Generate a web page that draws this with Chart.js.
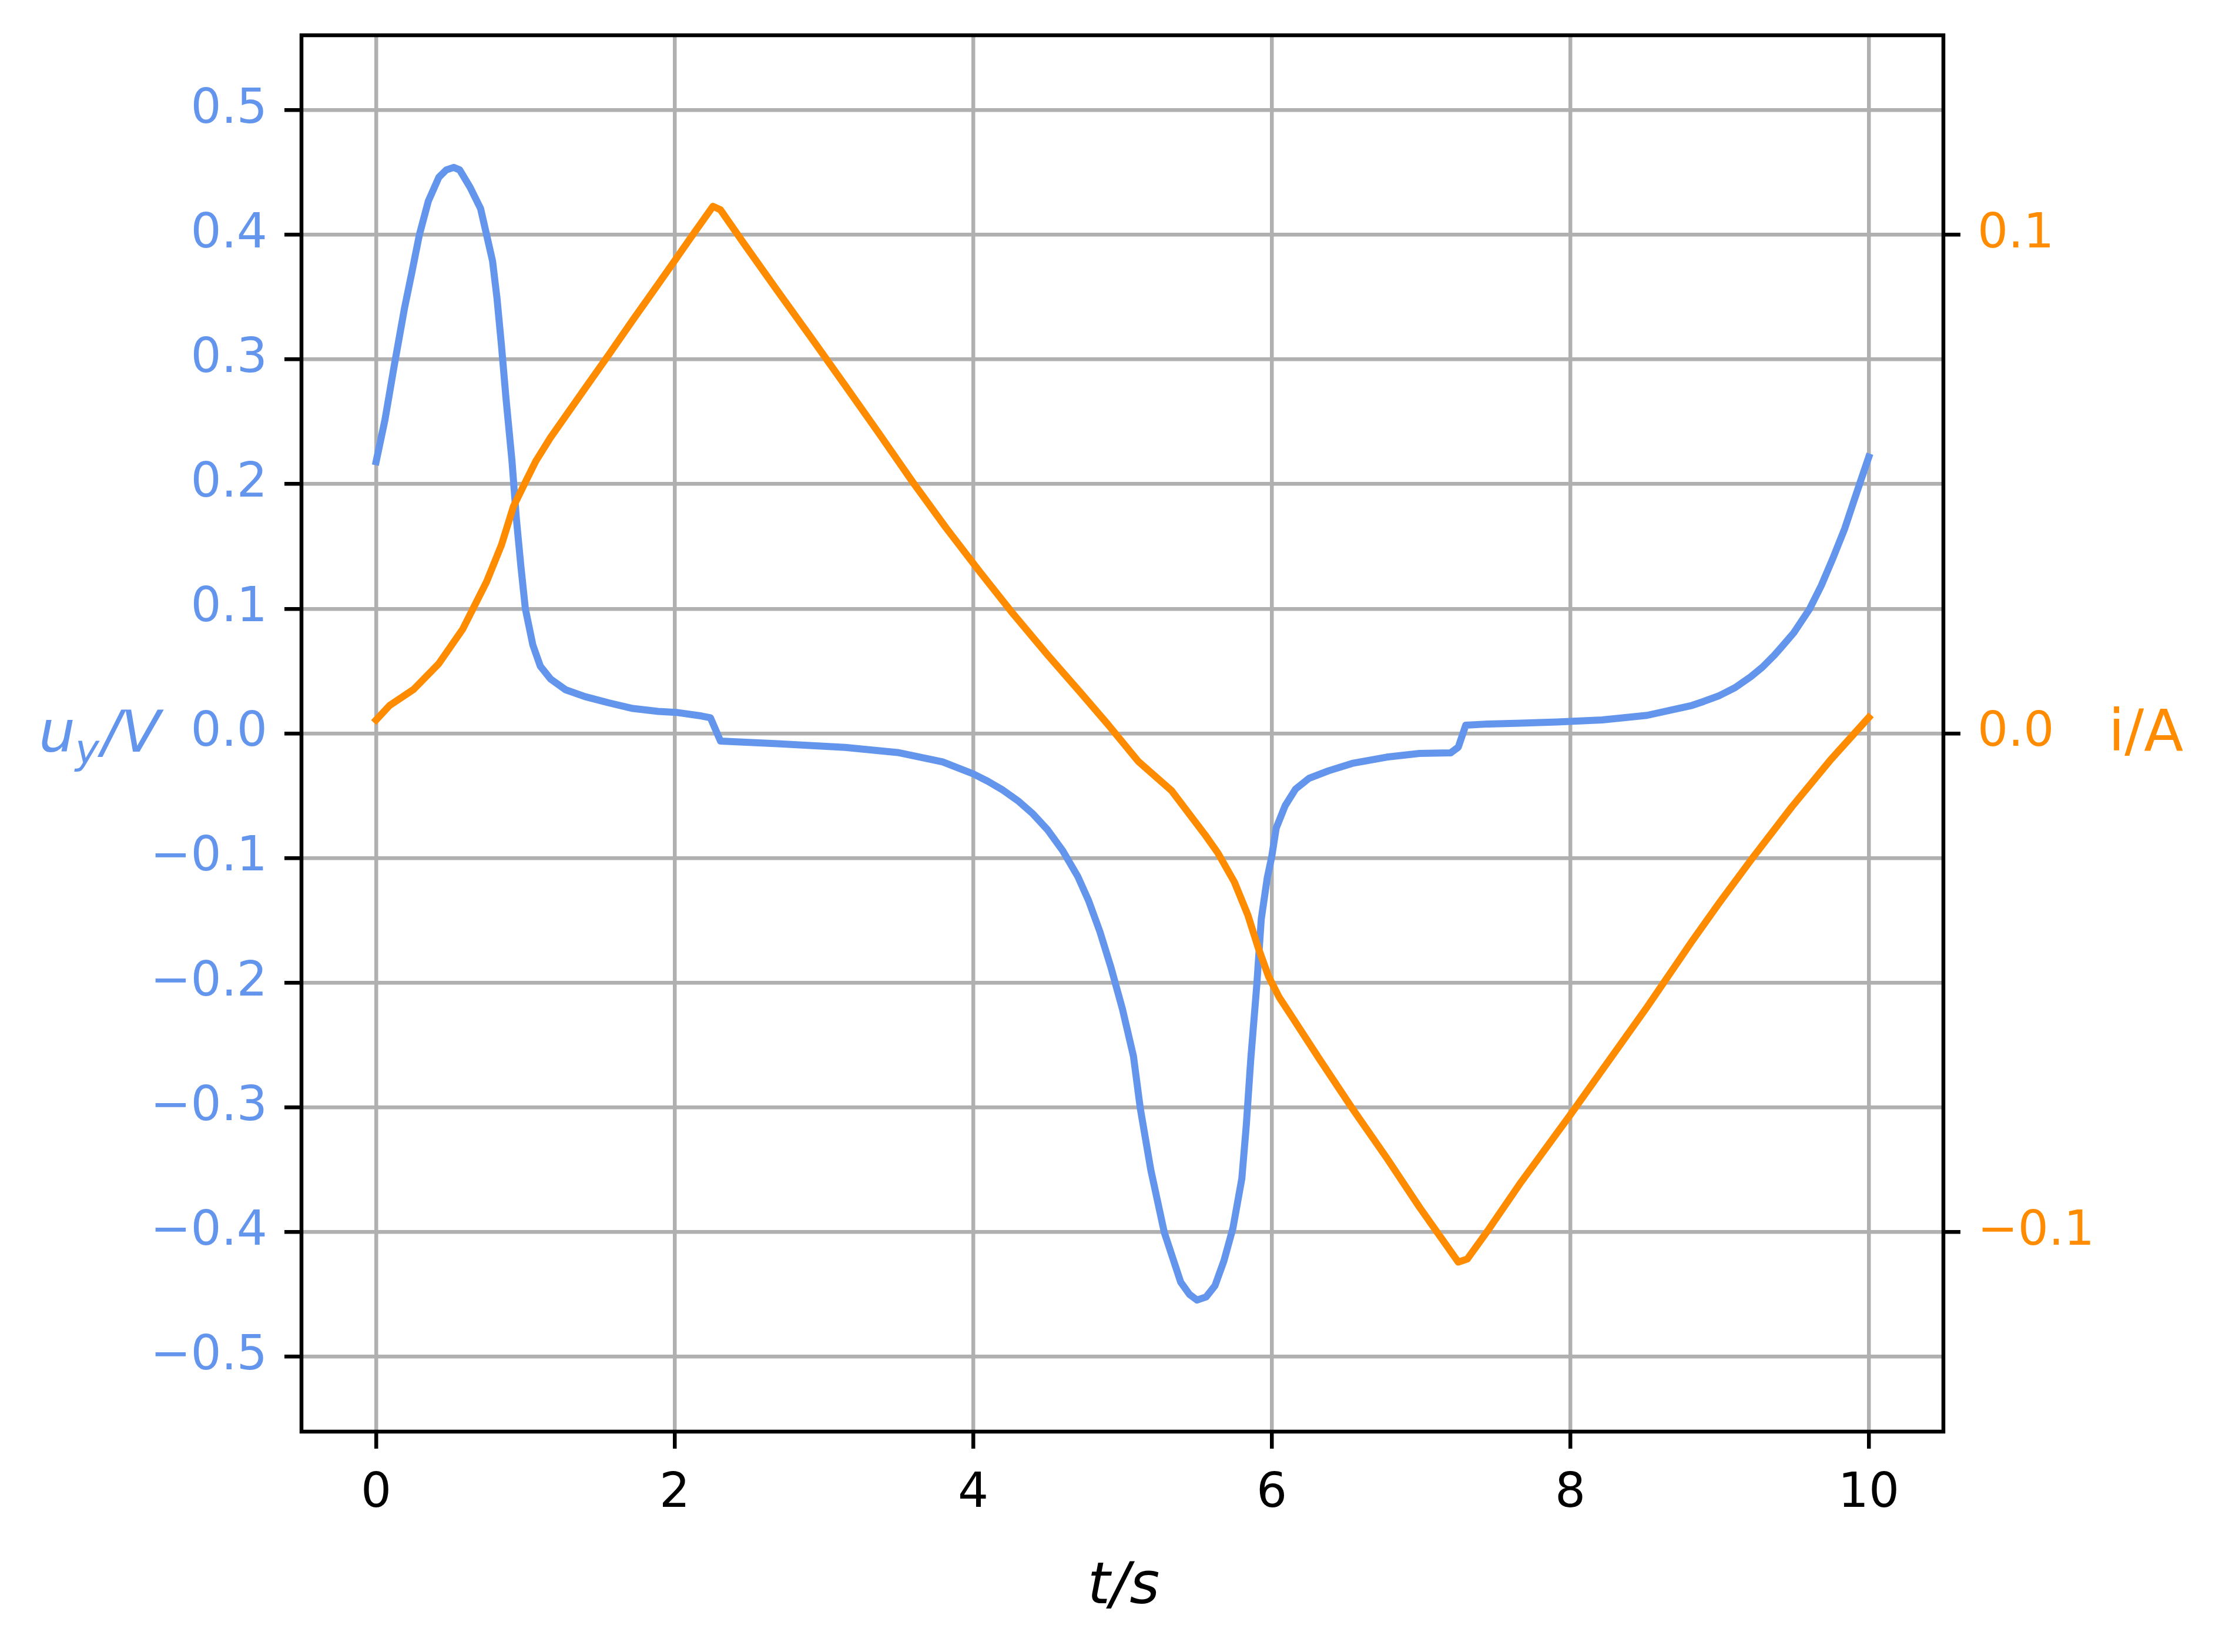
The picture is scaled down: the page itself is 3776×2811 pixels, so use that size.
<!DOCTYPE html>
<html>
<head>
<meta charset="utf-8">
<script src="https://cdn.jsdelivr.net/npm/chart.js@4.4.1/dist/chart.umd.min.js"></script>
<style>
  html, body { margin: 0; padding: 0; background: #fff; }
</style>
</head>
<body>
<canvas id="myChart" width="3776" height="2811"></canvas>
<script>
// tiempo y tension u_y (eje izquierdo)
const tU = [0, 0.06, 0.12, 0.19, 0.24, 0.29, 0.35, 0.42, 0.47, 0.52, 0.56, 0.63, 0.7, 0.74, 0.78, 0.81, 0.84, 0.87, 0.91, 0.94, 0.97, 1.0, 1.05, 1.1, 1.17, 1.27, 1.4, 1.56, 1.72, 1.89, 2.01, 2.18, 2.24, 2.307, 2.69, 3.142, 3.494, 3.795, 4.0, 4.1, 4.2, 4.3, 4.4, 4.5, 4.6, 4.7, 4.773, 4.849, 4.924, 5.0, 5.074, 5.12, 5.19, 5.28, 5.39, 5.45, 5.5, 5.56, 5.62, 5.68, 5.74, 5.8, 5.83, 5.86, 5.9, 5.93, 5.97, 6.0, 6.03, 6.09, 6.16, 6.25, 6.38, 6.54, 6.77, 6.99, 7.2, 7.25, 7.3, 7.45, 7.67, 7.913, 8.214, 8.514, 8.816, 8.895, 9.0, 9.104, 9.209, 9.288, 9.367, 9.419, 9.498, 9.603, 9.682, 9.76, 9.839, 9.891, 9.944, 10.0];
const uVals = [0.218, 0.252, 0.294, 0.341, 0.370, 0.400, 0.427, 0.446, 0.452, 0.454, 0.452, 0.438, 0.421, 0.400, 0.379, 0.349, 0.311, 0.269, 0.219, 0.172, 0.134, 0.100, 0.071, 0.054, 0.0435, 0.035, 0.0295, 0.0245, 0.020, 0.0177, 0.0169, 0.014, 0.0126, -0.0061, -0.0083, -0.0112, -0.0153, -0.0228, -0.0324, -0.0385, -0.0455, -0.054, -0.0645, -0.0775, -0.094, -0.1145, -0.134, -0.159, -0.188, -0.221, -0.259, -0.301, -0.350, -0.400, -0.440, -0.450, -0.4545, -0.452, -0.443, -0.423, -0.397, -0.357, -0.314, -0.261, -0.202, -0.149, -0.116, -0.099, -0.076, -0.058, -0.0446, -0.036, -0.030, -0.024, -0.019, -0.016, -0.0155, -0.011, 0.0066, 0.0076, 0.0083, 0.0092, 0.0108, 0.0145, 0.0225, 0.0257, 0.0304, 0.0367, 0.0454, 0.0532, 0.0627, 0.0698, 0.0808, 0.0997, 0.1186, 0.1406, 0.1643, 0.1831, 0.202, 0.2217];

// tiempo y corriente i (eje derecho)
const tI = [0, 0.09, 0.25, 0.42, 0.58, 0.74, 0.84, 0.92, 1.0, 1.07, 1.17, 1.4, 1.56, 1.72, 1.89, 2.01, 2.11, 2.257, 2.307, 2.465, 2.69, 2.916, 3.142, 3.368, 3.593, 3.819, 4.045, 4.27, 4.497, 4.722, 4.903, 5.106, 5.33, 5.553, 5.64, 5.75, 5.84, 5.91, 5.98, 6.05, 6.14, 6.32, 6.54, 6.77, 6.99, 7.25, 7.31, 7.45, 7.67, 8.0, 8.214, 8.514, 8.815, 9.0, 9.223, 9.485, 9.747, 10.0];
const iVals = [0.0027, 0.0056, 0.0088, 0.014, 0.0209, 0.0304, 0.0378, 0.0455, 0.0504, 0.0546, 0.0594, 0.0692, 0.076, 0.0829, 0.0901, 0.0952, 0.0995, 0.1057, 0.105, 0.0982, 0.0887, 0.0793, 0.0698, 0.0602, 0.0505, 0.0412, 0.0324, 0.0239, 0.0158, 0.0081, 0.0018, -0.0056, -0.0115, -0.0203, -0.024, -0.0298, -0.0364, -0.043, -0.0488, -0.0529, -0.057, -0.0653, -0.0752, -0.0851, -0.095, -0.106, -0.1054, -0.0996, -0.090, -0.0765, -0.0675, -0.0549, -0.0417, -0.0339, -0.0249, -0.0147, -0.0052, 0.0032];

// ticks
const xTicks = [0, 2, 4, 6, 8, 10];
const uTicks = [-0.5, -0.4, -0.3, -0.2, -0.1, 0, 0.1, 0.2, 0.3, 0.4, 0.5];
const iTicks = [-0.1, 0, 0.1];

const azul = "#6495ED";
const naranja = "#FF8C00";
const gris = "#b0b0b0";
const fuente = "DejaVu Sans";

function formato(v) {
  return (v < 0 ? "\u2212" : "") + Math.abs(v).toFixed(1);
}

// sin relleno extra de las etiquetas en los extremos
function sinRelleno(s) {
  s.paddingTop = 0;
  s.paddingBottom = 0;
  s.paddingLeft = 0;
  s.paddingRight = 0;
}

// marco y etiquetas de los ejes
const marco = {
  id: "marco",
  afterDatasetsDraw(chart) {
    const a = chart.chartArea;
    const ctx = chart.ctx;
    ctx.save();
    ctx.strokeStyle = "#000";
    ctx.lineWidth = 6.5;
    ctx.strokeRect(a.left, a.top, a.right - a.left, a.bottom - a.top);
    ctx.restore();
  },
  afterDraw(chart) {
    const ctx = chart.ctx;
    ctx.save();
    ctx.textBaseline = "alphabetic";

    // u_y/V
    ctx.fillStyle = azul;
    let x = 66;
    ctx.font = "italic 98px '" + fuente + "'";
    ctx.textAlign = "left";
    ctx.fillText("u", x, 1279);
    x += ctx.measureText("u").width;
    ctx.font = "italic 69px '" + fuente + "'";
    ctx.fillText("y", x, 1299);
    x += ctx.measureText("y").width + 4;
    ctx.font = "italic 98px '" + fuente + "'";
    ctx.fillText("/V", x, 1279);

    // i/A
    ctx.fillStyle = naranja;
    ctx.font = "98px '" + fuente + "'";
    ctx.fillText("i/A", 3588, 1277);

    // t/s
    ctx.fillStyle = "#000";
    ctx.font = "italic 98px '" + fuente + "'";
    ctx.textAlign = "center";
    ctx.fillText("t/s", 1912, 2728);
    ctx.restore();
  }
};

new Chart("myChart", {
  type: "line",
  data: {
    datasets: [
      {
        label: "i",
        data: tI.map((t, k) => ({ x: t, y: iVals[k] })),
        yAxisID: "yI",
        borderColor: naranja,
        borderWidth: 12,
        pointRadius: 0,
        borderJoinStyle: "round",
        borderCapStyle: "square",
        tension: 0,
        fill: false,
        order: 1
      },
      {
        label: "u",
        data: tU.map((t, k) => ({ x: t, y: uVals[k] })),
        yAxisID: "yU",
        borderColor: azul,
        borderWidth: 12,
        pointRadius: 0,
        borderJoinStyle: "round",
        borderCapStyle: "square",
        tension: 0,
        fill: false,
        order: 2
      }
    ]
  },
  options: {
    responsive: false,
    animation: false,
    devicePixelRatio: 1,
    layout: { padding: { top: 60, left: 0, right: 0, bottom: 0 } },
    plugins: {
      legend: { display: false },
      tooltip: { enabled: false }
    },
    scales: {
      x: {
        type: "linear",
        position: "bottom",
        min: -0.5,
        max: 10.5,
        afterBuildTicks: s => { s.ticks = xTicks.map(v => ({ value: v })); },
        afterFit: s => { s.height = 375; sinRelleno(s); },
        grid: { color: gris, lineWidth: 6.5, tickColor: "#000", tickLength: 29, tickWidth: 6.5 },
        border: { display: false },
        ticks: {
          color: "#000",
          font: { family: fuente, size: 82 },
          padding: 29,
          maxRotation: 0,
          autoSkip: false,
          callback: v => String(v)
        }
      },
      yU: {
        type: "linear",
        position: "left",
        min: -0.56,
        max: 0.56,
        afterBuildTicks: s => { s.ticks = uTicks.map(v => ({ value: v })); },
        afterFit: s => { s.width = 513; sinRelleno(s); },
        grid: { color: gris, lineWidth: 6.5, tickColor: "#000", tickLength: 29, tickWidth: 6.5 },
        border: { display: false },
        ticks: {
          color: azul,
          font: { family: fuente, size: 82 },
          padding: 29,
          autoSkip: false,
          callback: v => formato(v)
        }
      },
      yI: {
        type: "linear",
        position: "right",
        min: -0.14,
        max: 0.14,
        afterBuildTicks: s => { s.ticks = iTicks.map(v => ({ value: v })); },
        afterFit: s => { s.width = 3776 - 3307; sinRelleno(s); },
        grid: { drawOnChartArea: false, tickColor: "#000", tickLength: 29, tickWidth: 6.5, lineWidth: 6.5 },
        border: { display: false },
        ticks: {
          color: naranja,
          font: { family: fuente, size: 82 },
          padding: 29,
          autoSkip: false,
          callback: v => formato(v)
        }
      }
    }
  },
  plugins: [marco]
});
</script>
</body>
</html>
